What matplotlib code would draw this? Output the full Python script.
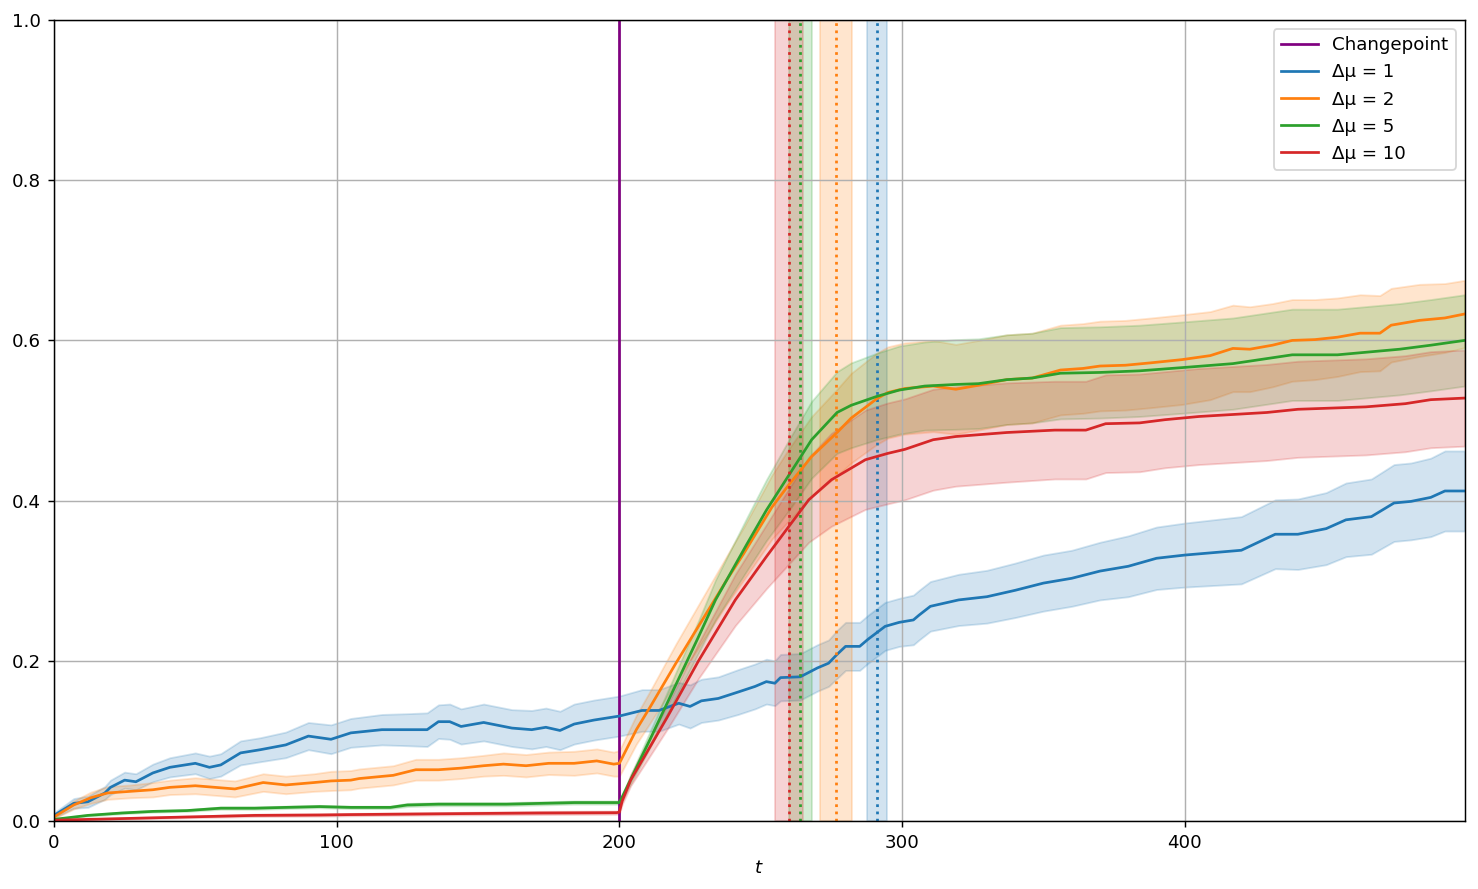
import numpy as np
import matplotlib
matplotlib.use("Agg")
import matplotlib.pyplot as plt

# changepoint and detected changepoints (mean, spread) per delta mu
changepoint = 200
labels = ["Δμ = 1", "Δμ = 2", "Δμ = 5", "Δμ = 10"]
colors = ["C0", "C1", "C2", "C3"]
detect_mean = [291.2, 276.7, 264.0, 260.0]
detect_std = [3.6, 5.7, 4.0, 5.0]

# delta mu = 1
t1 = [0, 7, 12, 18, 20, 25, 29, 35, 41, 50, 55, 59, 66, 73, 82, 90, 98, 105, 116, 125,
      132, 136, 140, 144, 152, 162, 169, 174, 179, 184, 191, 200, 208, 214, 221, 225, 229, 235, 242, 248,
      252, 255, 257, 264, 270, 274, 277, 280, 285, 288, 294, 299, 304, 306, 310, 320, 330, 340, 350, 360,
      370, 380, 390, 400, 410, 420, 432, 440, 450, 457, 466, 474, 480, 487, 492, 499]
m1 = [0.007, 0.022, 0.024, 0.035, 0.042, 0.051, 0.049, 0.060, 0.067, 0.072, 0.067, 0.070, 0.085, 0.089, 0.095, 0.106, 0.102, 0.110, 0.114, 0.114,
      0.114, 0.124, 0.124, 0.118, 0.123, 0.116, 0.114, 0.117, 0.113, 0.121, 0.126, 0.131, 0.138, 0.138, 0.147, 0.143, 0.150, 0.153, 0.161, 0.168,
      0.174, 0.172, 0.179, 0.180, 0.191, 0.197, 0.208, 0.218, 0.218, 0.227, 0.243, 0.248, 0.251, 0.257, 0.268, 0.276, 0.280, 0.288, 0.297, 0.303,
      0.312, 0.318, 0.328, 0.332, 0.335, 0.338, 0.358, 0.358, 0.365, 0.376, 0.380, 0.397, 0.399, 0.404, 0.412, 0.412]
s1 = [0.003, 0.006, 0.007, 0.008, 0.009, 0.010, 0.010, 0.011, 0.012, 0.013, 0.014, 0.014, 0.015, 0.015, 0.016, 0.017, 0.018, 0.018, 0.019, 0.020,
      0.021, 0.021, 0.022, 0.022, 0.023, 0.023, 0.024, 0.024, 0.024, 0.025, 0.025, 0.025, 0.026, 0.026, 0.026, 0.027, 0.027, 0.027, 0.028, 0.028,
      0.028, 0.028, 0.029, 0.029, 0.029, 0.029, 0.030, 0.030, 0.030, 0.030, 0.030, 0.030, 0.031, 0.031, 0.031, 0.032, 0.033, 0.034, 0.035, 0.035,
      0.036, 0.038, 0.039, 0.040, 0.041, 0.042, 0.043, 0.044, 0.045, 0.046, 0.047, 0.048, 0.048, 0.049, 0.050, 0.050]

# delta mu = 2
t2 = [0, 7, 13, 19, 27, 35, 41, 50, 57, 64, 74, 82, 92, 98, 105, 108, 120, 128, 136, 144,
      152, 159, 167, 175, 184, 192, 198, 200, 206, 211, 220, 238, 244, 254, 260, 268, 277, 282, 291, 295,
      301, 311, 319, 327, 337, 346, 356, 364, 370, 379, 388, 399, 409, 417, 423, 431, 438, 446, 454, 462,
      469, 473, 483, 492, 499]
m2 = [0.005, 0.020, 0.029, 0.035, 0.037, 0.039, 0.042, 0.044, 0.042, 0.040, 0.048, 0.045, 0.048, 0.050, 0.051, 0.053, 0.057, 0.064, 0.064, 0.066,
      0.069, 0.071, 0.069, 0.072, 0.072, 0.075, 0.071, 0.072, 0.114, 0.143, 0.197, 0.301, 0.334, 0.392, 0.420, 0.455, 0.485, 0.503, 0.527, 0.535,
      0.540, 0.543, 0.539, 0.544, 0.551, 0.553, 0.563, 0.565, 0.568, 0.569, 0.572, 0.576, 0.581, 0.590, 0.589, 0.594, 0.600, 0.601, 0.604, 0.609,
      0.609, 0.619, 0.625, 0.628, 0.633]
s2 = [0.002, 0.005, 0.007, 0.008, 0.008, 0.009, 0.009, 0.010, 0.010, 0.010, 0.011, 0.011, 0.011, 0.012, 0.012, 0.012, 0.012, 0.013, 0.013, 0.013,
      0.013, 0.014, 0.014, 0.014, 0.015, 0.015, 0.015, 0.016, 0.018, 0.020, 0.024, 0.030, 0.033, 0.040, 0.045, 0.050, 0.054, 0.056, 0.057, 0.057,
      0.057, 0.057, 0.056, 0.056, 0.056, 0.056, 0.056, 0.056, 0.056, 0.056, 0.056, 0.056, 0.055, 0.054, 0.053, 0.052, 0.051, 0.050, 0.049, 0.048,
      0.047, 0.046, 0.045, 0.043, 0.042]

# delta mu = 5
t5 = [0, 12, 24, 35, 47, 59, 71, 82, 94, 105, 119, 125, 136, 148, 160, 172, 184, 199, 200, 201,
      211, 228, 234, 245, 252, 260, 268, 277, 282, 291, 299, 308, 319, 327, 337, 346, 356, 370, 384, 399,
      417, 438, 454, 476, 487, 499]
m5 = [0.002, 0.007, 0.010, 0.012, 0.013, 0.016, 0.016, 0.017, 0.018, 0.017, 0.017, 0.020, 0.021, 0.021, 0.021, 0.022, 0.023, 0.023, 0.023, 0.030,
      0.103, 0.230, 0.276, 0.345, 0.388, 0.432, 0.476, 0.510, 0.519, 0.530, 0.538, 0.543, 0.545, 0.546, 0.551, 0.553, 0.559, 0.560, 0.562, 0.566,
      0.571, 0.582, 0.582, 0.589, 0.594, 0.600]
s5 = [0.0005, 0.001, 0.001, 0.001, 0.001, 0.0015, 0.0015, 0.0015, 0.0015, 0.0015, 0.0015, 0.002, 0.002, 0.002, 0.002, 0.002, 0.002, 0.002, 0.002, 0.003,
      0.010, 0.020, 0.025, 0.033, 0.038, 0.044, 0.048, 0.051, 0.053, 0.054, 0.055, 0.055, 0.056, 0.056, 0.056, 0.056, 0.057, 0.057, 0.057, 0.057,
      0.057, 0.057, 0.057, 0.057, 0.057, 0.057]

# delta mu = 10
t10 = [0, 24, 47, 71, 94, 105, 136, 172, 199, 200, 201, 204, 217, 228, 241, 252, 260, 267, 275, 287,
       295, 301, 311, 319, 337, 354, 365, 372, 384, 393, 405, 429, 440, 464, 478, 487, 499]
m10 = [0.001, 0.003, 0.005, 0.007, 0.0075, 0.008, 0.009, 0.010, 0.0104, 0.011, 0.025, 0.051, 0.130, 0.200, 0.276, 0.330, 0.368, 0.401, 0.426, 0.451,
       0.459, 0.464, 0.476, 0.480, 0.485, 0.488, 0.488, 0.496, 0.497, 0.501, 0.505, 0.510, 0.514, 0.517, 0.521, 0.526, 0.528]
s10 = [0.0005, 0.001, 0.001, 0.0015, 0.0015, 0.0015, 0.0015, 0.002, 0.002, 0.002, 0.004, 0.007, 0.015, 0.022, 0.032, 0.040, 0.047, 0.053, 0.058, 0.062,
       0.063, 0.063, 0.063, 0.062, 0.062, 0.061, 0.061, 0.061, 0.061, 0.060, 0.060, 0.060, 0.060, 0.060, 0.060, 0.060, 0.060]

series = [(t1, m1, s1), (t2, m2, s2), (t5, m5, s5), (t10, m10, s10)]

dpi = 131
fig, ax = plt.subplots(figsize=(1478 / dpi, 889 / dpi), dpi=dpi)
fig.subplots_adjust(left=0.0365, right=0.991, top=0.9775, bottom=0.0765)

ax.axvline(changepoint, color="purple", label="Changepoint")

for (t, m, s), lab, c, dm, ds in zip(series, labels, colors, detect_mean, detect_std):
    t = np.array(t)
    m = np.array(m)
    s = np.array(s)
    ax.plot(t, m, color=c, label=lab)
    ax.fill_between(t, m - s, m + s, color=c, alpha=0.2)
    ax.axvline(dm, color=c, ls=":")
    ax.axvspan(dm - ds, dm + ds, color=c, alpha=0.2)

ax.set_xlim(0, 499)
ax.set_ylim(0, 1)
ax.set_xlabel("$t$")
ax.grid(True)
ax.legend(loc="upper right")

fig.savefig("out.png", dpi=dpi)
